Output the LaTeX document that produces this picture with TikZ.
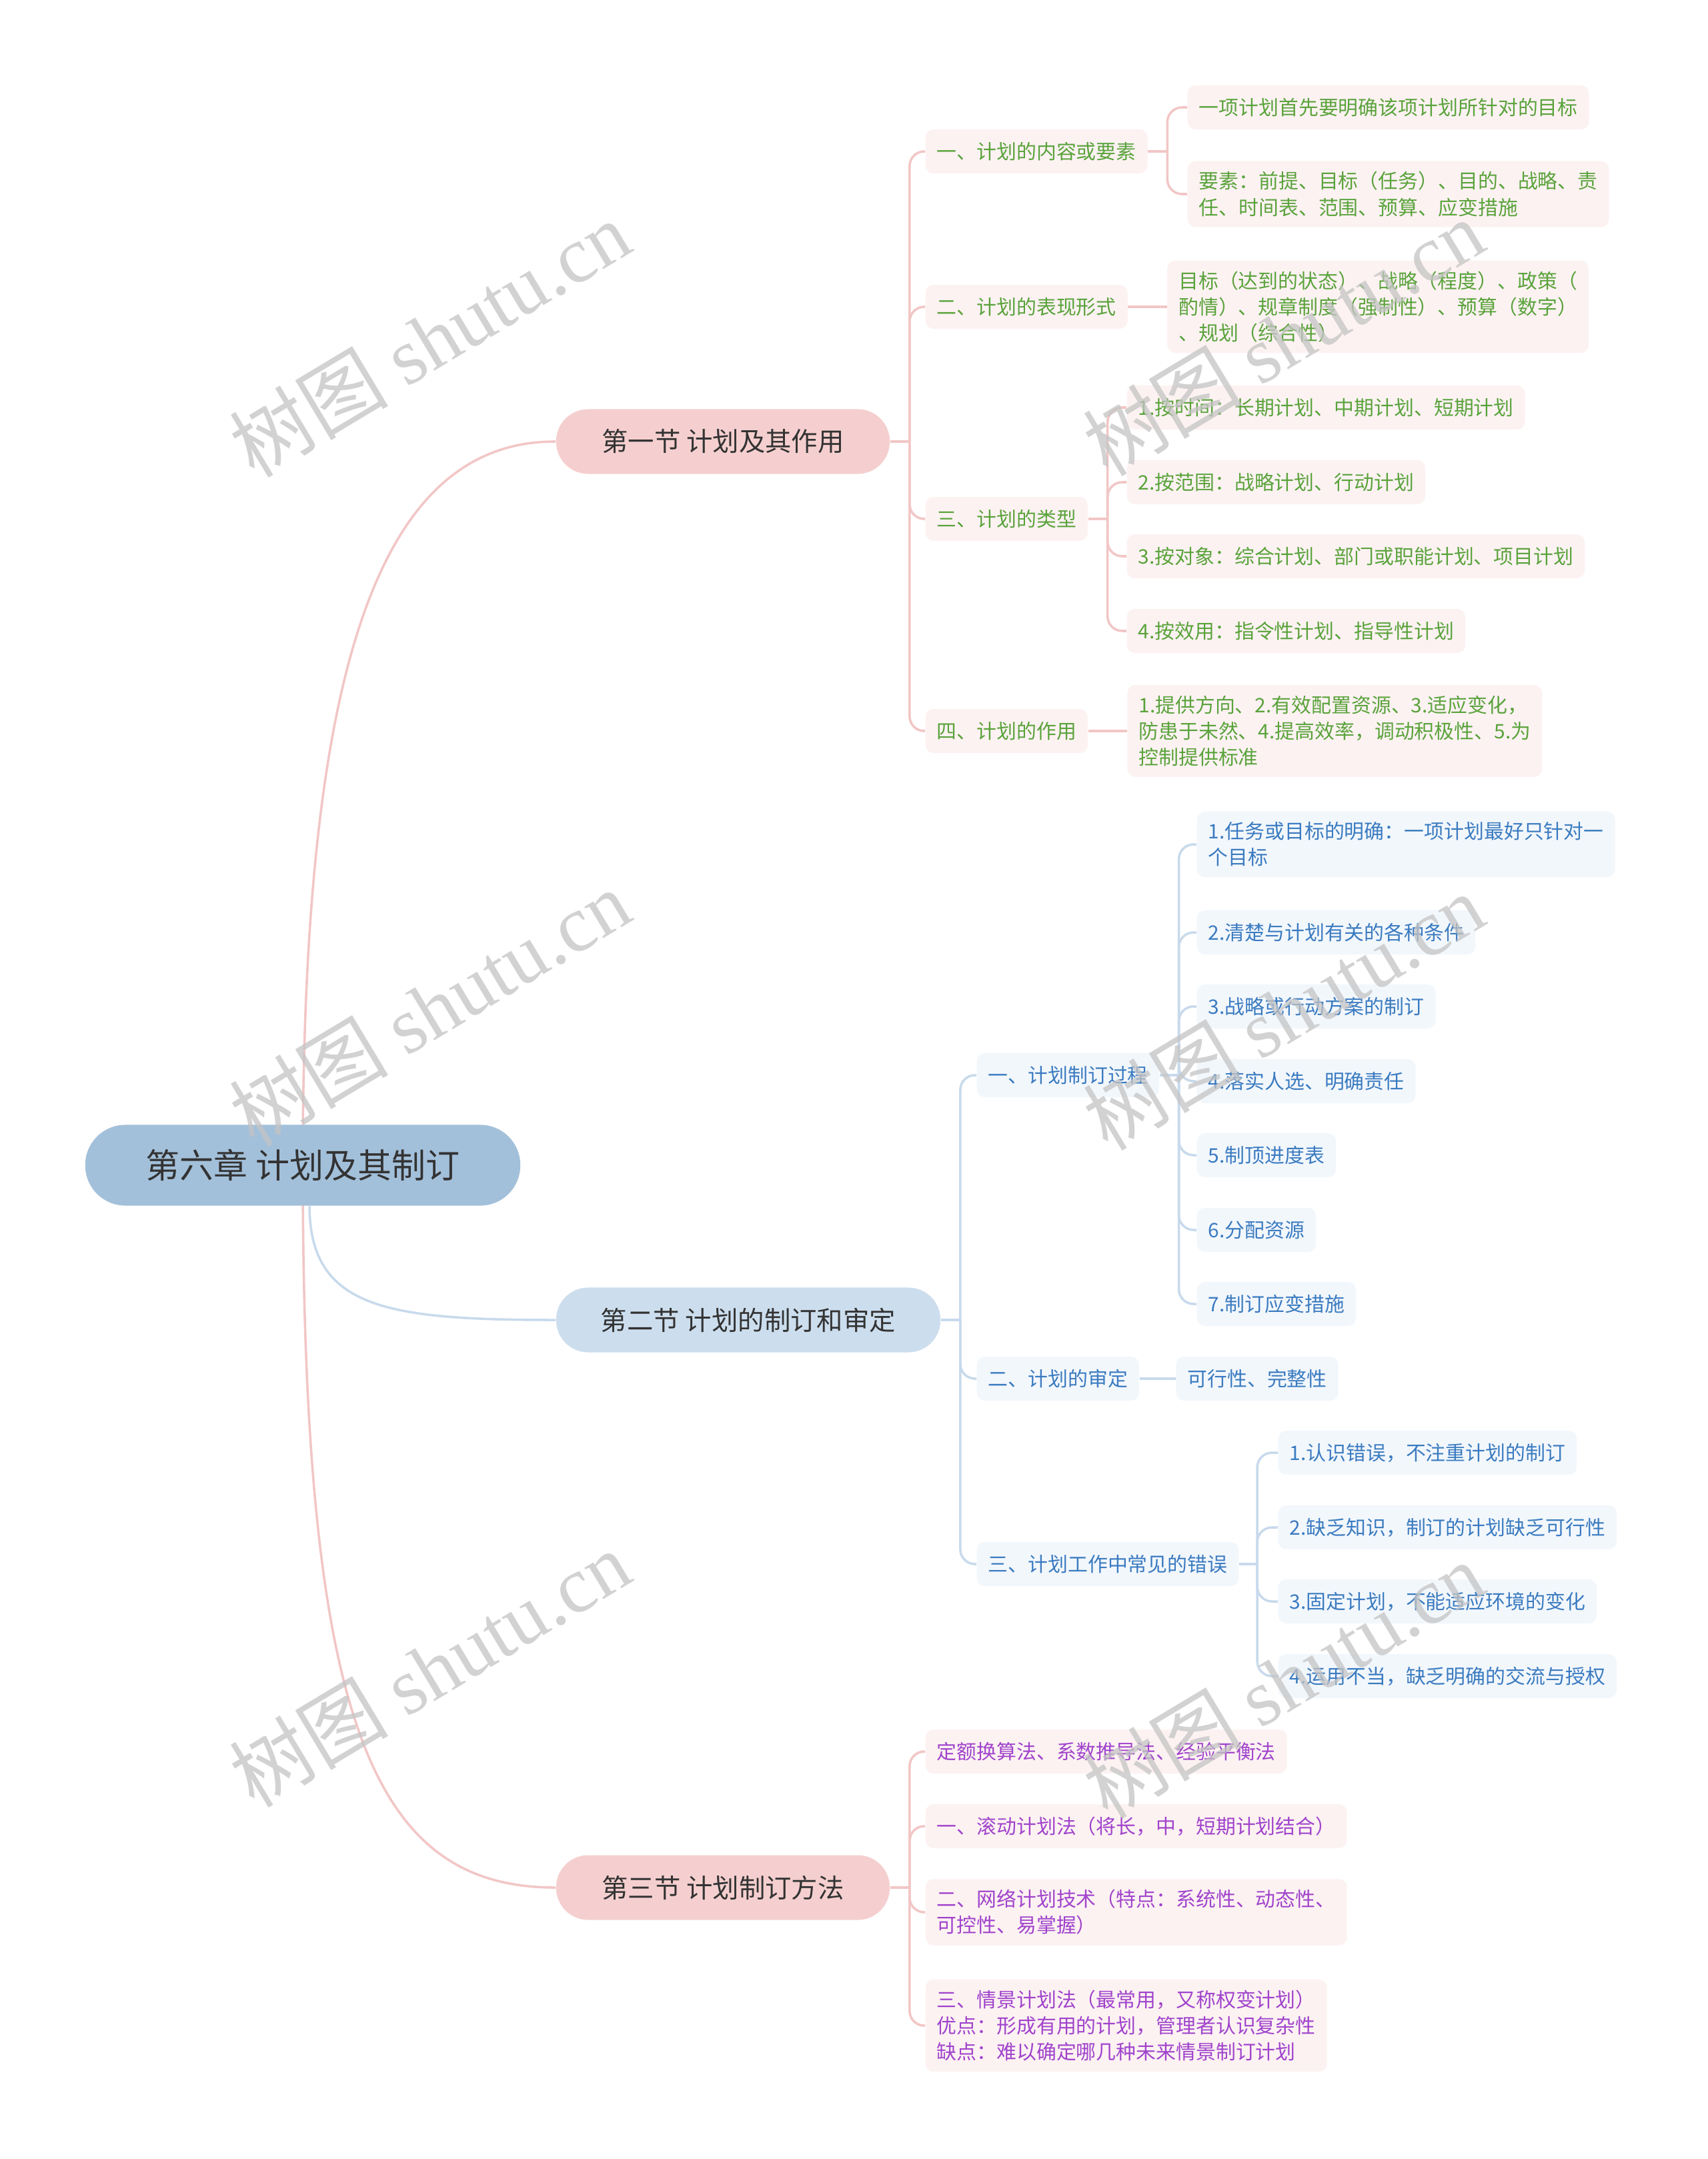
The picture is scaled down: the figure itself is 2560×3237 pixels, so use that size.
\documentclass[tikz,border=0pt]{standalone}
\usepackage{fontspec}
\setmainfont{Noto Sans CJK SC}
\newfontfamily\wmlatin{Liberation Serif}
\usetikzlibrary{positioning,backgrounds}

\definecolor{rootfill}{HTML}{A3C0DA}
\definecolor{sectpink}{HTML}{F5CFCF}
\definecolor{sectblue}{HTML}{CCDEEE}
\definecolor{boxpink}{HTML}{FDF2F2}
\definecolor{boxblue}{HTML}{F2F7FC}
\definecolor{linepink}{HTML}{F2C6C6}
\definecolor{lineblue}{HTML}{C8DAEC}
\definecolor{txtgreen}{HTML}{5AA33C}
\definecolor{txtblue}{HTML}{3B7BC0}
\definecolor{txtpurple}{HTML}{A044CC}
\definecolor{txtdark}{HTML}{333333}
\definecolor{wmgray}{HTML}{C4C4C4}

\begin{document}
\begin{tikzpicture}[
  x=0.01cm, y=-0.01cm,
  every node/.style={inner sep=0pt},
  root/.style={fill=rootfill,rounded corners=0.6cm,minimum width=6.52cm,minimum height=1.21cm,
    font=\fontsize{14.5}{17}\selectfont,text=txtdark},
  sect/.style={rounded corners=0.48cm,minimum height=0.97cm,font=\fontsize{11.2}{13}\selectfont,text=txtdark},
  item/.style={rounded corners=0.12cm,minimum height=0.66cm,inner xsep=0.17cm,inner ysep=0.16cm,
    align=left,font=\fontsize{8.5}{11.1}\selectfont},
  pk/.style={item,fill=boxpink,text=txtgreen},
  bl/.style={item,fill=boxblue,text=txtblue},
  pp/.style={item,fill=boxpink,text=txtpurple},
  pinkline/.style={draw=linepink,line width=1pt},
  blueline/.style={draw=lineblue,line width=1pt},
  fork/.style={rounded corners=0.22cm},
  wmark/.style={text=wmgray,text opacity=0.75,rotate=31,font=\fontsize{34}{38}\selectfont}
]
  \useasboundingbox (0,0) rectangle (2560,3237);

  % centre and sections
  \node[root] (root) at (454,1747) {第六章 计划及其制订};
  \node[sect,fill=sectpink,minimum width=5cm] (s1) at (1084,662) {第一节 计划及其作用};
  \node[sect,fill=sectblue,minimum width=5.76cm] (s2) at (1122,1979) {第二节 计划的制订和审定};
  \node[sect,fill=sectpink,minimum width=5cm] (s3) at (1084,2830) {第三节 计划制订方法};

  % section 1
  \node[pk,anchor=west] (m11) at (1387,227) {一、计划的内容或要素};
  \node[pk,anchor=west] (m12) at (1387,460) {二、计划的表现形式};
  \node[pk,anchor=west] (m13) at (1387,778) {三、计划的类型};
  \node[pk,anchor=west] (m14) at (1387,1096) {四、计划的作用};

  \node[pk,anchor=west] (l111) at (1780,161) {一项计划首先要明确该项计划所针对的目标};
  \node[pk,anchor=west] (l112) at (1780,291) {要素：前提、目标（任务）、目的、战略、责\\任、时间表、范围、预算、应变措施};
  \node[pk,right=0.58cm of m12] (l121) {目标（达到的状态）、战略（程度）、政策（\\酌情）、规章制度（强制性）、预算（数字）\\、规划（综合性）};
  \node[pk,anchor=west] (l131) at (1689,611) {1.按时间：长期计划、中期计划、短期计划};
  \node[pk,anchor=west] (l132) at (1689,723) {2.按范围：战略计划、行动计划};
  \node[pk,anchor=west] (l133) at (1689,834) {3.按对象：综合计划、部门或职能计划、项目计划};
  \node[pk,anchor=west] (l134) at (1689,946) {4.按效用：指令性计划、指导性计划};
  \node[pk,right=0.58cm of m14] (l141) {1.提供方向、2.有效配置资源、3.适应变化，\\防患于未然、4.提高效率，调动积极性、5.为\\控制提供标准};

  % section 2
  \node[bl,anchor=west] (m21) at (1464,1612) {一、计划制订过程};
  \node[bl,anchor=west] (m22) at (1464,2067) {二、计划的审定};
  \node[bl,anchor=west] (m23) at (1464,2345) {三、计划工作中常见的错误};

  \node[bl,anchor=west] (l211) at (1794,1266) {1.任务或目标的明确：一项计划最好只针对一\\个目标};
  \node[bl,anchor=west] (l212) at (1794,1398) {2.清楚与计划有关的各种条件};
  \node[bl,anchor=west] (l213) at (1794,1509) {3.战略或行动方案的制订};
  \node[bl,anchor=west] (l214) at (1794,1621) {4.落实人选、明确责任};
  \node[bl,anchor=west] (l215) at (1794,1732) {5.制顶进度表};
  \node[bl,anchor=west] (l216) at (1794,1844) {6.分配资源};
  \node[bl,anchor=west] (l217) at (1794,1955) {7.制订应变措施};
  \node[bl,right=0.54cm of m22] (l221) {可行性、完整性};
  \node[bl,anchor=west] (l231) at (1916,2178) {1.认识错误，不注重计划的制订};
  \node[bl,anchor=west] (l232) at (1916,2290) {2.缺乏知识，制订的计划缺乏可行性};
  \node[bl,anchor=west] (l233) at (1916,2401) {3.固定计划，不能适应环境的变化};
  \node[bl,anchor=west] (l234) at (1916,2513) {4.运用不当，缺乏明确的交流与授权};

  % section 3
  \node[pp,anchor=west] (l31) at (1387,2626) {定额换算法、系数推导法、经验平衡法};
  \node[pp,anchor=west] (l32) at (1387,2738) {一、滚动计划法（将长，中，短期计划结合）};
  \node[pp,anchor=west] (l33) at (1387,2867) {二、网络计划技术（特点：系统性、动态性、\\可控性、易掌握）};
  \node[pp,anchor=west] (l34) at (1387,3037) {三、情景计划法（最常用，又称权变计划）\\优点：形成有用的计划，管理者认识复杂性\\缺点：难以确定哪几种未来情景制订计划};

  \begin{scope}[on background layer]
    \fill[white] (0,0) rectangle (2560,3237);
    \draw[pinkline] (root.center) .. controls (454,1032) and (557,661) .. (s1.west);
    \draw[blueline] ([xshift=0.1cm]root.south) .. controls (465,1961) and (578,1979) .. (s2.west);
    \draw[pinkline] (root.center) .. controls (454,2581) and (557,2830) .. (s3.west);

    \draw[pinkline] (s1.east) -- ++(29,0) coordinate (j1);
    \foreach \c in {m11,m12,m13,m14} \draw[pinkline,fork] (j1) |- (\c.west);
    \draw[pinkline] (m11.east) -- ++(29,0) coordinate (j11);
    \foreach \c in {l111,l112} \draw[pinkline,fork] (j11) |- (\c.west);
    \draw[pinkline] (m12) -- (l121);
    \draw[pinkline] (m13.east) -- ++(29,0) coordinate (j13);
    \foreach \c in {l131,l132,l133,l134} \draw[pinkline,fork] (j13) |- (\c.west);
    \draw[pinkline] (m14) -- (l141);

    \draw[blueline] (s2.east) -- ++(29,0) coordinate (j2);
    \foreach \c in {m21,m22,m23} \draw[blueline,fork] (j2) |- (\c.west);
    \draw[blueline] (m21.east) -- ++(29,0) coordinate (j21);
    \foreach \c in {l211,l212,l213,l214,l215,l216,l217} \draw[blueline,fork] (j21) |- (\c.west);
    \draw[blueline] (m22) -- (l221);
    \draw[blueline] (m23.east) -- ++(27,0) coordinate (j23);
    \foreach \c in {l231,l232,l233,l234} \draw[blueline,fork] (j23) |- (\c.west);

    \draw[pinkline] (s3.east) -- ++(29,0) coordinate (j3);
    \foreach \c in {l31,l32,l33,l34} \draw[pinkline,fork] (j3) |- (\c.west);
  \end{scope}

  % watermarks
  \foreach \wx/\wy [count=\k] in {644/508,644/1511,644/2502,1924/506,1924/1517,1924/2519}
    \node[wmark] (wm\k) at (\wx,\wy) {树图 {\wmlatin shutu.cn}};
\end{tikzpicture}
\end{document}
